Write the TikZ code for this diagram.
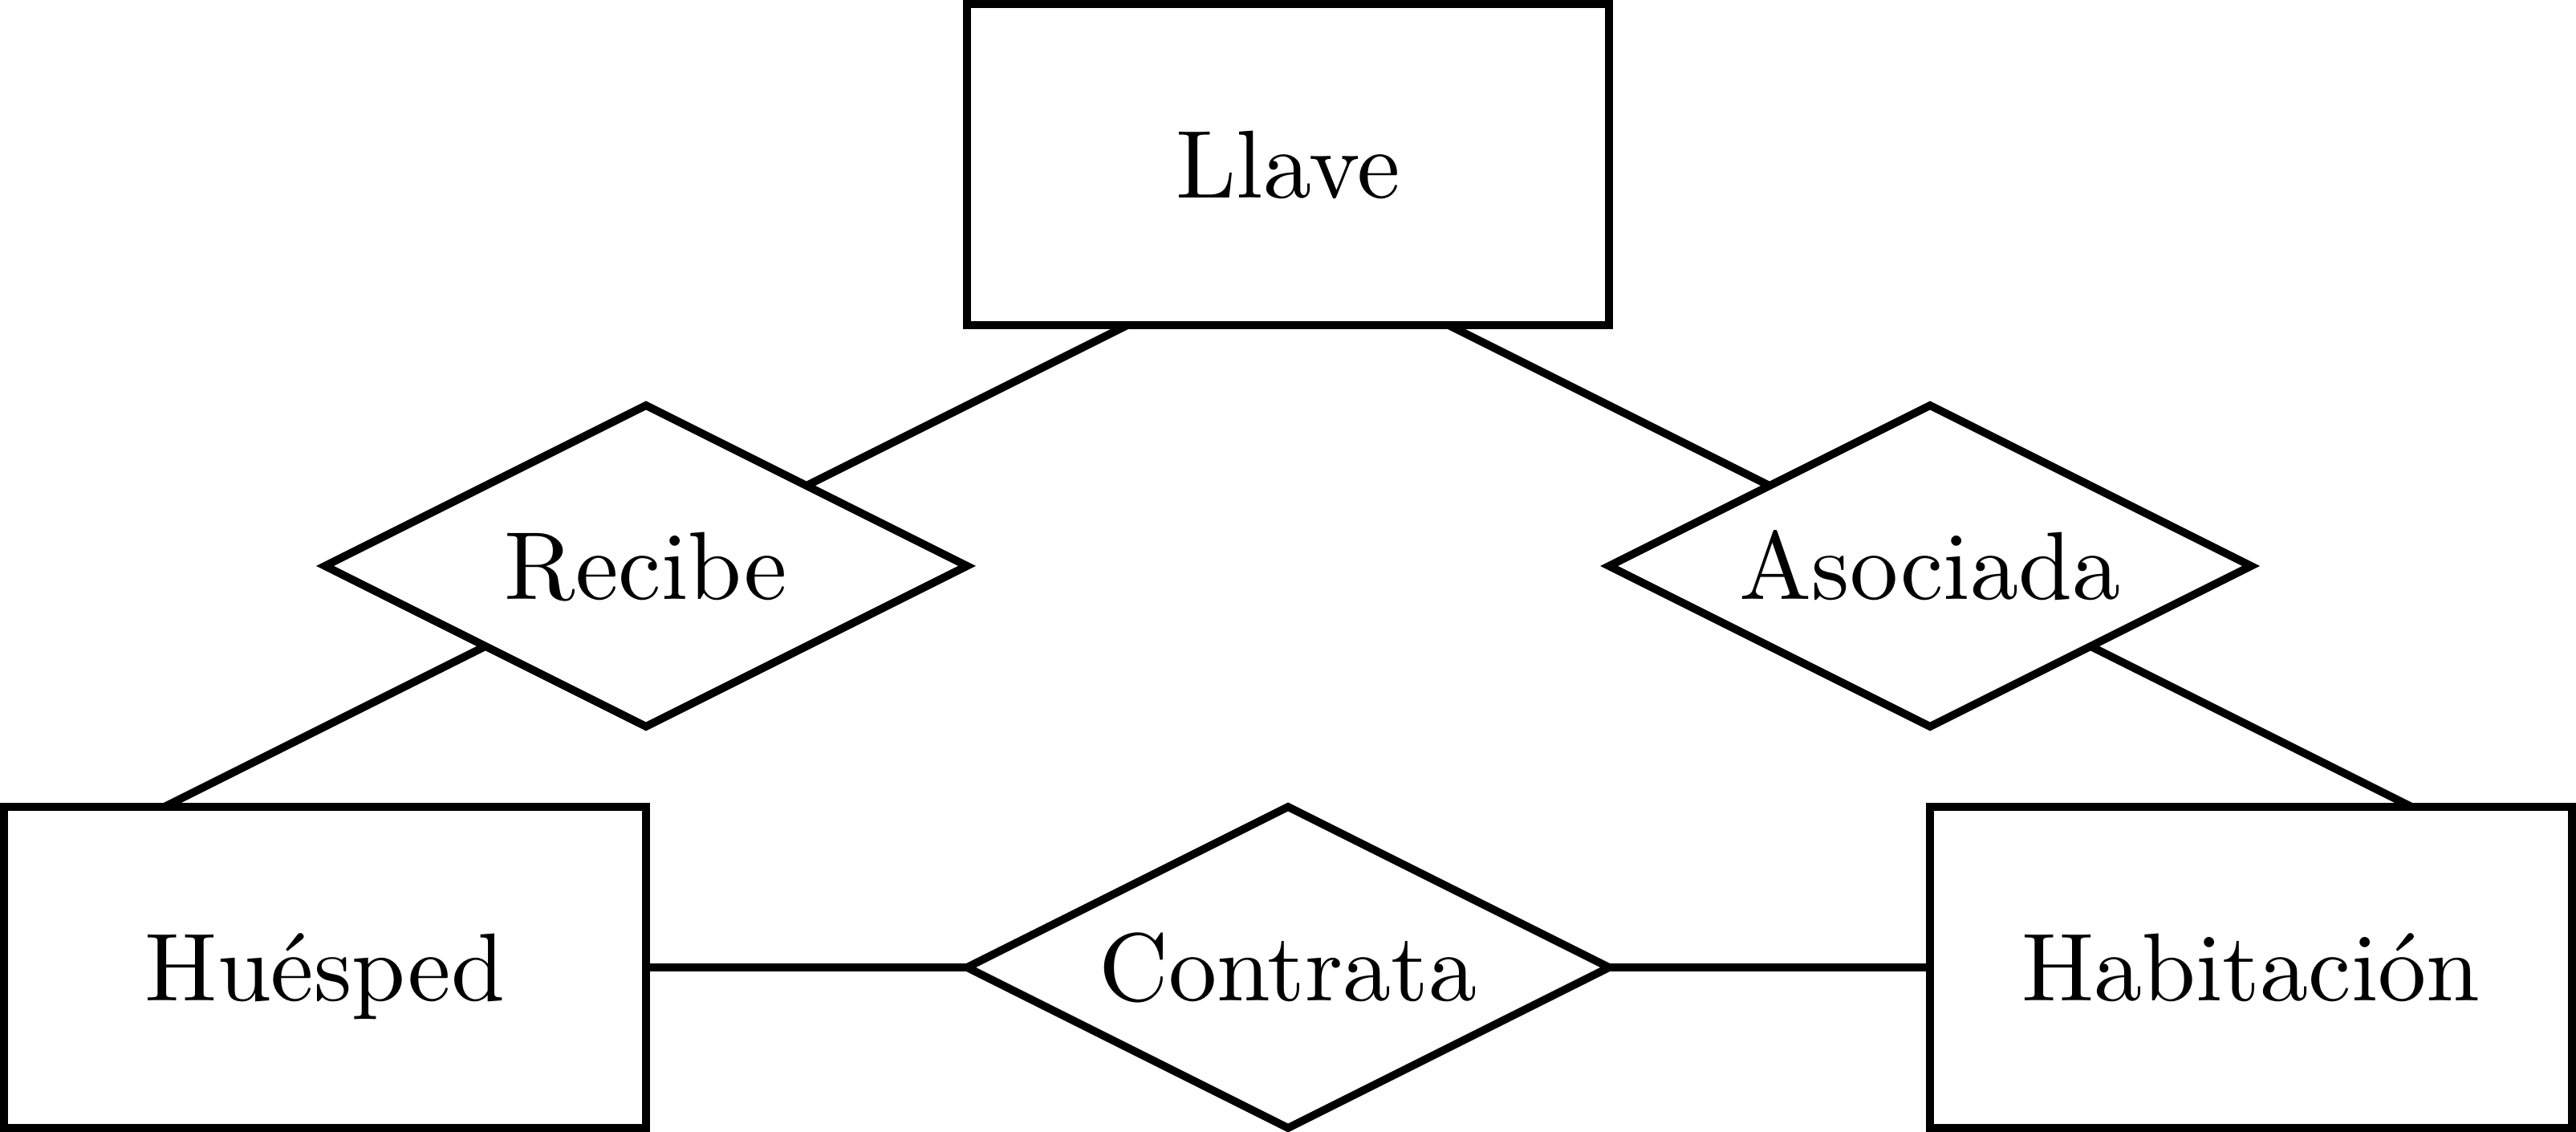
\documentclass[tikz,border=0pt]{standalone}
\usepackage{fontspec}
\usepackage{tikz}
\usetikzlibrary{calc, shapes.geometric}

\newfontfamily\ertexto{lmroman10-regular}[Extension=.otf]

\tikzset{
	entidad/.style={draw, line width=1.4pt, minimum width=4cm, minimum height=2cm, inner sep=0pt, outer sep=0pt, text height=11.7pt, text depth=0pt, font=\ertexto\fontsize{17.1}{20}\selectfont},
	relacion/.style={draw, diamond, aspect=2, line width=1.4pt, minimum width=4cm, minimum height=2cm, inner sep=0pt, outer sep=0pt, text height=11.7pt, text depth=0pt, font=\ertexto\fontsize{17.1}{20}\selectfont},
	enlace/.style={line width=1.4pt}
}

\begin{document}
\begin{tikzpicture}
		\useasboundingbox (-0.025,-6.025) rectangle (16.025,1.025);
	
		\node [entidad] (llave) at (8,0) {Llave};
		\node [relacion] (recibe) at (4,-2.5) {Recibe};
		\node [relacion] (asociada) at (12,-2.5) {Asociada};
	
		\node [entidad] (huesped) at (2,-5) {Huésped};
		\node [relacion] (contrata) at (8,-5) {Contrata};
		\node [entidad] (habitacion) at (14,-5) {Habitación};
		
		\draw [enlace] ($(llave.south west)!0.25!(llave.south east)$) -- ($(recibe.north)!0.5!(recibe.east)$);
		\draw [enlace] ($(llave.south west)!0.75!(llave.south east)$) -- ($(asociada.north)!0.5!(asociada.west)$);
		
		\draw [enlace] ($(recibe.south)!0.5!(recibe.west)$) -- ($(huesped.north west)!0.25!(huesped.north east)$);
		\draw [enlace] ($(asociada.south)!0.5!(asociada.east)$) -- ($(habitacion.north west)!0.75!(habitacion.north east)$);
		
		\draw [enlace] (huesped) -- (contrata);
		\draw [enlace] (contrata) -- (habitacion);
		
	\end{tikzpicture}
\end{document}
